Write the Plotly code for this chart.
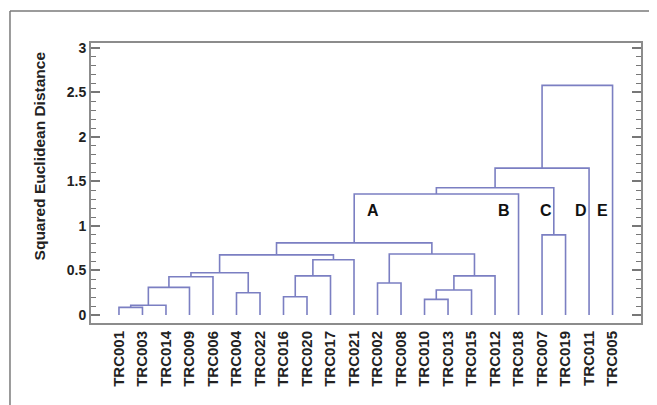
import plotly.graph_objects as go

# Leaves in display order
leaves = ["TRC001", "TRC003", "TRC014", "TRC009", "TRC006", "TRC004", "TRC022",
          "TRC016", "TRC020", "TRC017", "TRC021", "TRC002", "TRC008", "TRC010",
          "TRC013", "TRC015", "TRC012", "TRC018", "TRC007", "TRC019", "TRC011", "TRC005"]

# Linkage: node ids 0..21 are leaves, 22+ are merged clusters (in this order)
merge_left = [0, 22, 23, 24, 5, 25, 7, 28, 29, 27, 11, 13, 33, 34, 32, 31, 37, 18, 38, 40, 41]
merge_right = [1, 2, 3, 4, 6, 26, 8, 9, 10, 30, 12, 14, 15, 16, 35, 36, 17, 19, 39, 20, 21]
merge_height = [0.085, 0.11, 0.31, 0.43, 0.25, 0.475, 0.205, 0.44, 0.62, 0.675,
                0.36, 0.175, 0.28, 0.44, 0.685, 0.81, 1.36, 0.90, 1.43, 1.65, 2.58]

# Cluster labels
cluster_labels = ["A", "B", "C", "D", "E"]

y_tickvals = [0, 0.5, 1, 1.5, 2, 2.5, 3]
y_ticktext = ["0", "0.5", "1", "1.5", "2", "2.5", "3"]

pos = {i: float(i) for i in range(len(leaves))}
hgt = {i: 0.0 for i in range(len(leaves))}
xs, ys = [], []
for k, (l, r, h) in enumerate(zip(merge_left, merge_right, merge_height)):
    node = len(leaves) + k
    xs += [pos[l], pos[l], pos[r], pos[r], None]
    ys += [hgt[l], h, h, hgt[r], None]
    pos[node] = (pos[l] + pos[r]) / 2
    hgt[node] = h

line_color = "#7b7fc2"
fig = go.Figure()
fig.add_trace(go.Scatter(x=xs, y=ys, mode="lines",
                         line=dict(color=line_color, width=1.6),
                         hoverinfo="skip", showlegend=False))

font_family = "Liberation Sans, Arial, sans-serif"
label_x = [10.79, 16.4, 18.17, 19.65, 20.58]
for lab, lx in zip(cluster_labels, label_x):
    fig.add_annotation(x=lx, y=1.17, text=lab, showarrow=False,
                       xanchor="center", yanchor="middle",
                       font=dict(family=font_family, size=16, color="#111", weight="bold"))

# Y axis title
fig.add_annotation(xref="paper", yref="paper", x=-0.0945, y=0.595,
                   xanchor="center", yanchor="middle",
                   text="Squared Euclidean Distance", textangle=-90, showarrow=False,
                   font=dict(family=font_family, size=15.5, color="#222", weight="bold"))

# Outer frame (left and top edges)
frame = dict(color="#7a7a7a", width=1.5)
fig.add_shape(type="line", xref="paper", yref="paper", x0=-0.1473, x1=-0.1473,
              y0=-0.3, y1=1.114, line=frame)
fig.add_shape(type="line", xref="paper", yref="paper", x0=-0.1473, x1=1.05,
              y0=1.114, y1=1.114, line=frame)

# page body has an 8px margin, so the figure is 8px smaller than the window
fig.update_layout(
    width=649, height=397,
    margin=dict(l=83, r=16, t=35, b=82),
    paper_bgcolor="white", plot_bgcolor="white",
    font=dict(family=font_family, color="#222"),
    xaxis=dict(range=[-1.19, 22.21], tickmode="array",
               tickvals=list(range(len(leaves))), ticktext=leaves,
               tickangle=-90, ticks="", showgrid=False, zeroline=False,
               automargin=False,
               showline=True, linecolor="#8c8c8c", linewidth=2, mirror=True,
               tickfont=dict(family=font_family, size=15, color="#222", weight="bold")),
    yaxis=dict(range=[-0.09, 3.056], tickmode="array",
               tickvals=y_tickvals, ticktext=y_ticktext,
               ticks="inside", ticklen=9, tickwidth=1.5, tickcolor="#777",
               minor=dict(dtick=0.1, ticks="inside", ticklen=5, tickwidth=1, tickcolor="#777"),
               showgrid=False, zeroline=False, automargin=False,
               showline=True, linecolor="#8c8c8c", linewidth=2, mirror="allticks",
               tickfont=dict(family=font_family, size=14, color="#222", weight="bold")),
)

fig.write_html("out.html")
